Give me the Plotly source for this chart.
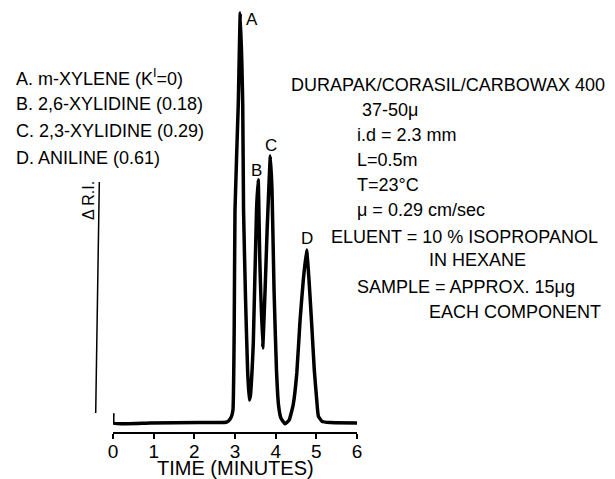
import plotly.graph_objects as go

# ---- data ----
time_min = [0.00, 0.01, 0.91, 2.14, 2.78, 2.84, 2.91, 2.95, 2.98, 3.00, 3.08, 3.13,
            3.19, 3.21, 3.26, 3.31, 3.35, 3.38, 3.42, 3.45, 3.53, 3.57, 3.61, 3.68,
            3.74, 3.79, 3.84, 3.87, 3.91, 3.96, 4.02, 4.07, 4.13, 4.23, 4.33, 4.43,
            4.52, 4.60, 4.68, 4.76, 4.82, 4.89, 4.95, 5.01, 5.05, 5.14, 5.34, 6.00]
signal = [2.4, 0.0, 0.0, 0.1, 0.2, 0.5, 1.5, 3.2, 22.7, 52.0, 77.6, 100.0,
          77.6, 52.0, 30.0, 12.9, 5.6, 6.8, 12.9, 19.5, 52.0, 59.3, 39.8, 18.3,
          32.4, 47.1, 59.3, 65.1, 56.8, 32.4, 12.9, 4.4, 1.2, -0.2, 0.7, 4.4,
          12.2, 25.1, 34.9, 42.2, 34.9, 23.4, 12.9, 5.6, 1.7, 0.4, 0.1, 0.0]

peak_names = ["A", "B", "C", "D"]
peak_label_t = [3.42, 3.54, 3.88, 4.76]
peak_label_s = [98.5, 61.7, 67.6, 45.0]

x_ticks = [0, 1, 2, 3, 4, 5, 6]

legend_lines = ["A. m-XYLENE (K<sup>I</sup>=0)",
                "B. 2,6-XYLIDINE (0.18)",
                "C. 2,3-XYLIDINE (0.29)",
                "D. ANILINE (0.61)"]

conditions = ["DURAPAK/CORASIL/CARBOWAX 400",
              "37-50μ",
              "i.d = 2.3 mm",
              "L=0.5m",
              "T=23°C",
              "μ = 0.29 cm/sec",
              "ELUENT = 10 % ISOPROPANOL",
              "IN HEXANE",
              "SAMPLE = APPROX. 15μg",
              "EACH COMPONENT"]

# ---- layout geometry ----
W, H = 615, 479
L, R, T, B = 113, 258, 10, 47
PW, PH = W - L - R, H - T - B
FONT = "Liberation Sans, Arial, sans-serif"


def px(x):
    return (x - L) / PW


def py(y):
    return (H - B - y) / PH


fig = go.Figure()
fig.add_trace(go.Scatter(x=time_min, y=signal, mode="lines",
                         line=dict(color="black", width=3.5, shape="spline", smoothing=0.4),
                         cliponaxis=False, hoverinfo="skip", showlegend=False))

ann = []
for n, t, s in zip(peak_names, peak_label_t, peak_label_s):
    ann.append(dict(x=t, y=s, xref="x", yref="y", text=n, showarrow=False,
                    font=dict(size=17, color="black", family=FONT)))

legend_y = [77, 104, 131, 158]
for txt, yy in zip(legend_lines, legend_y):
    ann.append(dict(x=px(14), y=py(yy), xref="paper", yref="paper", text=txt,
                    showarrow=False, xanchor="left", yanchor="middle",
                    font=dict(size=18, color="black", family=FONT)))

cond_x = [289, 360, 355, 355, 355, 355, 329, 427, 355, 427]
cond_y = [85, 110, 135, 160, 185, 210, 237, 260, 287, 312]
for txt, xx, yy in zip(conditions, cond_x, cond_y):
    ann.append(dict(x=px(xx), y=py(yy), xref="paper", yref="paper", text=txt,
                    showarrow=False, xanchor="left", yanchor="middle",
                    font=dict(size=18, color="black", family=FONT)))

ann.append(dict(x=px(89), y=py(201), xref="paper", yref="paper", text="Δ R.I.",
                showarrow=False, textangle=-90, xanchor="center", yanchor="middle",
                font=dict(size=16, color="black", family=FONT)))

ann.append(dict(x=px(235), y=py(468), xref="paper", yref="paper", text="TIME (MINUTES)",
                showarrow=False, xanchor="center", yanchor="middle",
                font=dict(size=20, color="black", family=FONT)))

fig.update_layout(
    width=W, height=H,
    margin=dict(l=L, r=R, t=T, b=B, pad=0, autoexpand=False),
    paper_bgcolor="white", plot_bgcolor="white",
    font=dict(family=FONT, color="black"),
    xaxis=dict(range=[0, 6], tickvals=x_ticks, ticktext=[str(v) for v in x_ticks],
               automargin=False,
               showgrid=False, zeroline=False, showline=True, linecolor="black",
               linewidth=2, ticks="outside", ticklen=5, tickwidth=2, tickcolor="black",
               ticklabelstandoff=-4,
               tickfont=dict(size=19, color="black", family=FONT)),
    yaxis=dict(range=[-2.195, 100.73], visible=False, automargin=False),
    annotations=ann,
    shapes=[dict(type="line", xref="paper", yref="paper",
                 x0=px(99.3), y0=py(182), x1=px(95.7), y1=py(413),
                 line=dict(color="black", width=1.5))],
)

fig.write_html("out.html")
